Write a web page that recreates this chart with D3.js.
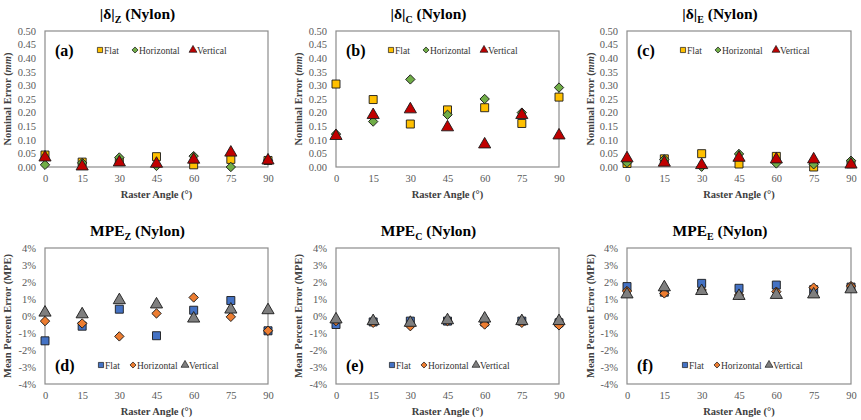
<!DOCTYPE html>
<html>
<head>
<meta charset="utf-8">
<script src="https://cdn.jsdelivr.net/npm/d3@7"></script>
<style>
  body { margin: 0; background: #fff; }
  svg, svg text { font-family: "Liberation Serif", "Times New Roman", "DejaVu Serif", serif; }
</style>
</head>
<body>
<svg id="chart" width="861" height="420"></svg>
<script>
// Raster angles (x values shared by all panels)
const angles = [0, 15, 30, 45, 60, 75, 90];
const seriesNames = ["Flat", "Horizontal", "Vertical"];

// Nominal error (mm)
const zFlat  = [0.044, 0.018, 0.020, 0.038, 0.008, 0.028, 0.024];
const zHoriz = [0.008, 0.015, 0.035, 0.004, 0.040, 0.000, 0.025];
const zVert  = [0.035, 0.002, 0.017, 0.012, 0.027, 0.053, 0.024];

const cFlat  = [0.305, 0.248, 0.158, 0.210, 0.218, 0.160, 0.257];
const cHoriz = [0.121, 0.167, 0.322, 0.192, 0.250, 0.200, 0.292];
const cVert  = [0.114, 0.191, 0.212, 0.146, 0.083, 0.191, 0.116];

const eFlat  = [0.013, 0.030, 0.049, 0.011, 0.039, 0.000, 0.012];
const eHoriz = [0.016, 0.028, 0.001, 0.048, 0.013, 0.010, 0.023];
const eVert  = [0.032, 0.016, 0.007, 0.034, 0.028, 0.028, 0.009];

// Mean percent error (%)
const mzFlat  = [-1.46, -0.60, 0.40, -1.16, 0.34, 0.91, -0.87];
const mzHoriz = [-0.30, -0.44, -1.20, 0.15, 1.09, -0.05, -0.87];
const mzVert  = [0.20, 0.10, 0.93, 0.68, -0.15, 0.38, 0.34];

const mcFlat  = [-0.50, -0.35, -0.30, -0.30, -0.35, -0.30, -0.40];
const mcHoriz = [-0.30, -0.40, -0.60, -0.30, -0.50, -0.40, -0.55];
const mcVert  = [-0.20, -0.30, -0.40, -0.25, -0.15, -0.30, -0.30];

const meFlat  = [1.73, 1.40, 1.92, 1.63, 1.82, 1.55, 1.70];
const meHoriz = [1.47, 1.33, 1.53, 1.24, 1.43, 1.67, 1.76];
const meVert  = [1.27, 1.69, 1.47, 1.18, 1.24, 1.27, 1.57];

// Tick values
const nominalTicks = [0, 0.05, 0.10, 0.15, 0.20, 0.25, 0.30, 0.35, 0.40, 0.45, 0.50];
const mpeTicks = [-4, -3, -2, -1, 0, 1, 2, 3, 4];

const topColors = ["#FFC000", "#70AD47", "#C00000"];
const botColors = ["#4472C4", "#ED7D31", "#7F7F7F"];

const FONT = "'Liberation Serif', 'Times New Roman', 'DejaVu Serif', serif";

const svg = d3.select("#chart");

const symbolFor = [d3.symbolSquare, d3.symbolSquare, d3.symbolTriangle];
const sizeFor = [64, 44, 64];
const rotFor = [0, 45, 0];

function drawPanel(p) {
  const x = d3.scaleLinear().domain([0, 90]).range([p.left, p.right]);
  const y = d3.scaleLinear().domain(p.domain).range([p.bottom, p.top]);
  const g = svg.append("g").style("font-family", FONT);

  // plot frame
  g.append("rect")
    .attr("x", p.left).attr("y", p.top)
    .attr("width", p.right - p.left).attr("height", p.bottom - p.top)
    .attr("fill", "none").attr("stroke", "#8c8c8c").attr("stroke-width", 1.2);

  // y axis labels
  const yAxis = g.append("g")
    .attr("transform", `translate(${p.left},0)`)
    .call(d3.axisLeft(y).tickValues(p.ticks).tickFormat(p.fmt).tickSize(0).tickPadding(p.pad));
  yAxis.attr("font-family", null);
  yAxis.select(".domain").remove();
  yAxis.selectAll("text").attr("font-size", 10.5).attr("fill", "#595959")
    .style("font-family", FONT);

  // x axis labels
  const xAxis = g.append("g")
    .attr("transform", `translate(0,${p.bottom})`)
    .call(d3.axisBottom(x).tickValues(angles).tickSize(0).tickPadding(8));
  xAxis.attr("font-family", null);
  xAxis.select(".domain").remove();
  xAxis.selectAll("text").attr("font-size", 10.5).attr("fill", "#595959")
    .style("font-family", FONT);

  // x axis title
  g.append("text")
    .attr("x", (p.left + p.right) / 2).attr("y", p.bottom + 31)
    .attr("text-anchor", "middle").attr("font-size", 10.5).attr("font-weight", "bold")
    .attr("fill", "#404040")
    .text("Raster Angle (°)");

  // y axis title
  const yt = g.append("text")
    .attr("transform", `translate(${p.ytx},${(p.top + p.bottom) / 2}) rotate(-90)`)
    .attr("text-anchor", "middle").attr("font-size", 10.5).attr("font-weight", "bold")
    .attr("fill", "#404040");
  p.ylabel.forEach(part => {
    yt.append("tspan").attr("font-style", part.italic ? "italic" : "normal").text(part.t);
  });

  // title
  const t = g.append("text")
    .attr("x", (p.left + p.right) / 2 - 19).attr("y", p.top - 12)
    .attr("text-anchor", "middle").attr("font-size", 15.5).attr("font-weight", "bold")
    .attr("fill", "#000");
  t.append("tspan").text(p.title);
  t.append("tspan").attr("font-size", 10).attr("dy", 4).text(p.sub);
  t.append("tspan").attr("dy", -4).text(p.gap + "(Nylon)");

  // panel letter
  g.append("text")
    .attr("x", p.left + 10).attr("y", p.legY + 6)
    .attr("font-size", 16).attr("font-weight", "bold").attr("fill", "#000")
    .text(p.letter);

  // markers
  p.series.forEach((vals, i) => {
    g.selectAll(null)
      .data(angles.map((a, j) => ({ a, v: vals[j] })))
      .join("path")
      .attr("d", d3.symbol().type(symbolFor[i]).size(sizeFor[i]))
      .attr("transform", d => `translate(${x(d.a)},${y(d.v)}) rotate(${rotFor[i]})`)
      .attr("fill", p.colors[i]).attr("stroke", "#1a1a1a").attr("stroke-width", 0.9);
  });

  // legend
  seriesNames.forEach((name, i) => {
    const lx = p.legX + p.legOff[i];
    g.append("path")
      .attr("d", d3.symbol().type(symbolFor[i]).size(sizeFor[i] * 0.42))
      .attr("transform", `translate(${lx},${p.legY}) rotate(${rotFor[i]})`)
      .attr("fill", p.colors[i]).attr("stroke", "#1a1a1a").attr("stroke-width", 0.7);
    g.append("text")
      .attr("x", lx + 4).attr("y", p.legY + 3.5)
      .attr("font-size", 9.5).attr("fill", "#333")
      .text(name);
  });
}

const nomFmt = d3.format(".2f");
const pctFmt = d => d + "%";
const nomLabel = [{ t: "Nominal Error (" }, { t: "mm", italic: true }, { t: ")" }];
const mpeLabel = [{ t: "Mean Percent Error (MPE)" }];

const cols = [
  { left: 45, right: 268, ytx: 11 },
  { left: 336, right: 559, ytx: 302 },
  { left: 627, right: 851, ytx: 594 }
];

const topPanels = [
  { sub: "Z", gap: " ", letter: "(a)", legX: 100, series: [zFlat, zHoriz, zVert] },
  { sub: "C", gap: "  ", letter: "(b)", legX: 391, series: [cFlat, cHoriz, cVert] },
  { sub: "E", gap: "  ", letter: "(c)", legX: 683, series: [eFlat, eHoriz, eVert] }
];
const botPanels = [
  { sub: "Z", letter: "(d)", legX: 101, series: [mzFlat, mzHoriz, mzVert] },
  { sub: "C", letter: "(e)", legX: 392, series: [mcFlat, mcHoriz, mcVert] },
  { sub: "E", letter: "(f)", legX: 685, series: [meFlat, meHoriz, meVert] }
];

topPanels.forEach((tp, i) => {
  drawPanel({
    ...cols[i], top: 31, bottom: 167, domain: [0, 0.5], ticks: nominalTicks, fmt: nomFmt, pad: 9,
    title: "|δ|", sub: tp.sub, gap: tp.gap, letter: tp.letter, series: tp.series,
    colors: topColors, ylabel: nomLabel, legY: 50, legX: tp.legX, legOff: [0, 35, 93]
  });
});

botPanels.forEach((bp, i) => {
  drawPanel({
    ...cols[i], top: 248, bottom: 384, domain: [-4, 4], ticks: mpeTicks, fmt: pctFmt, pad: 9,
    title: "MPE", sub: bp.sub, gap: " ", letter: bp.letter, series: bp.series,
    colors: botColors, ylabel: mpeLabel, legY: 365, legX: bp.legX, legOff: [0, 32, 84]
  });
});
</script>
</body>
</html>
